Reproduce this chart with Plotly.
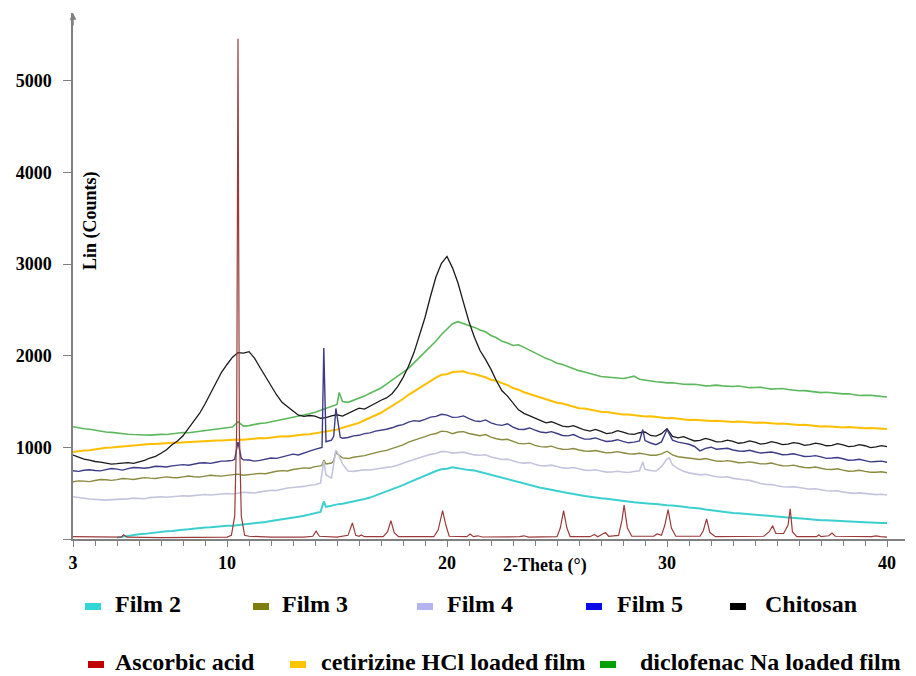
import plotly.graph_objects as go

# 2-theta grid (degrees) shared by the broad diffraction profiles: 3.0 ... 40.0 in 0.25 steps
theta = [round(3.0 + 0.25 * i, 2) for i in range(149)]

# Intensities (counts) on the grid; each full row spans 5 degrees (20 points)
chitosan = [916, 890, 872, 862, 846, 840, 828, 818, 822, 830, 834, 826, 842, 858, 884, 902, 936, 975, 1028, 1070,
            1126, 1210, 1288, 1370, 1474, 1590, 1712, 1820, 1905, 1985, 2035, 2030, 2045, 1975, 1872, 1770, 1668, 1575, 1492, 1440,
            1398, 1352, 1338, 1348, 1342, 1318, 1326, 1345, 1356, 1342, 1372, 1395, 1428, 1418, 1446, 1482, 1515, 1540, 1586, 1660,
            1762, 1885, 2035, 2215, 2418, 2650, 2862, 3010, 3085, 2960, 2795, 2580, 2372, 2200, 2058, 1960, 1852, 1725, 1618, 1560,
            1486, 1410, 1372, 1345, 1318, 1292, 1268, 1280, 1256, 1232, 1224, 1238, 1212, 1190, 1178, 1196, 1174, 1150, 1158, 1182,
            1166, 1148, 1142, 1160, 1168, 1130, 1124, 1150, 1205, 1120, 1104, 1118, 1092, 1070, 1076, 1098, 1082, 1060, 1064, 1080,
            1066, 1045, 1052, 1070, 1058, 1036, 1044, 1062, 1050, 1030, 1036, 1052, 1044, 1022, 1030, 1046, 1036, 1018, 1022, 1040,
            1028, 1008, 1014, 1030, 1018, 998, 1006, 1020, 1008]

film5 = [745, 738, 750, 756, 748, 744, 758, 770, 763, 752, 768, 780, 778, 772, 780, 794, 792, 786, 798, 808,
         812, 806, 818, 830, 832, 826, 838, 850, 852, 858, 1060, 864, 862, 850, 858, 874, 884, 880, 898, 914,
         926, 918, 942, 960, 978, 990, 1062, 1080, 1340, 1100, 1108, 1126, 1132, 1150, 1158, 1178, 1186, 1198, 1214, 1236,
         1248, 1275, 1292, 1286, 1306, 1330, 1338, 1362, 1352, 1328, 1330, 1344, 1314, 1290, 1282, 1300, 1268, 1248, 1240, 1258,
         1222, 1198, 1196, 1212, 1188, 1168, 1160, 1172, 1152, 1130, 1126, 1140, 1112, 1090, 1092, 1104, 1082, 1064, 1070, 1084,
         1066, 1050, 1058, 1070, 1075, 1048, 1030, 1060, 1195, 1080, 1058, 1046, 1034, 1010, 962, 990, 1002, 980, 982, 990,
         972, 960, 958, 968, 952, 938, 944, 950, 936, 920, 922, 930, 916, 900, 902, 910, 896, 880, 884, 890,
         876, 860, 862, 870, 856, 842, 846, 850, 838]
film5_peak_x = [10.35, 10.65, 14.32, 14.4, 14.85, 14.95, 15.15, 28.9]
film5_peak_y = [870, 880, 1000, 2085, 1120, 1425, 1110, 1195]

film3 = [625, 634, 632, 626, 638, 650, 646, 640, 648, 660, 656, 650, 660, 670, 664, 660, 670, 678, 672, 668,
         678, 688, 680, 676, 686, 696, 690, 686, 694, 700, 708, 696, 704, 714, 716, 712, 728, 740, 746, 742,
         758, 770, 776, 772, 790, 798, 820, 830, 930, 885, 878, 892, 900, 910, 926, 944, 956, 968, 986, 1010,
         1028, 1058, 1082, 1098, 1118, 1140, 1152, 1178, 1172, 1150, 1168, 1172, 1152, 1136, 1128, 1140, 1112, 1094, 1084, 1088,
         1062, 1044, 1038, 1046, 1022, 1008, 1004, 1014, 992, 980, 978, 988, 972, 960, 958, 966, 952, 940, 944, 954,
         942, 930, 928, 936, 926, 914, 914, 930, 958, 918, 898, 890, 882, 874, 868, 878, 862, 850, 848, 856,
         846, 832, 834, 842, 832, 820, 822, 830, 812, 800, 798, 806, 792, 780, 778, 786, 772, 760, 758, 766,
         752, 740, 742, 750, 738, 728, 728, 734, 723]
film3_peak_x = [14.32, 14.4, 14.85, 14.95]
film3_peak_y = [805, 860, 850, 965]

film4 = [462, 450, 444, 436, 432, 424, 424, 430, 432, 428, 438, 446, 446, 440, 452, 460, 462, 456, 464, 472,
         472, 468, 476, 484, 486, 480, 488, 496, 496, 492, 504, 510, 506, 502, 514, 526, 532, 530, 544, 556,
         562, 566, 574, 586, 592, 610, 700, 665, 955, 820, 742, 738, 746, 756, 754, 760, 772, 782, 788, 806,
         832, 850, 868, 890, 906, 924, 934, 956, 952, 938, 944, 948, 932, 918, 914, 920, 896, 878, 868, 872,
         852, 836, 828, 834, 816, 800, 798, 806, 792, 776, 772, 780, 766, 752, 748, 756, 742, 730, 732, 740,
         732, 726, 736, 745, 760, 748, 742, 790, 875, 810, 768, 740, 722, 712, 700, 706, 692, 680, 674, 680,
         662, 650, 646, 640, 622, 606, 596, 594, 582, 570, 568, 572, 562, 550, 544, 548, 536, 526, 524, 526,
         512, 502, 498, 504, 496, 486, 484, 488, 480]
film4_peak_x = [14.4, 14.95, 28.9, 30.1]
film4_peak_y = [850, 970, 840, 885]

film2 = [None, None, None, None, None, None, None, None, 15, 26, 34, 44, 52, 56, 64, 76, 82, 84, 88, 98,
         102, 106, 114, 122, 126, 128, 134, 142, 146, 144, 150, 158, 162, 166, 174, 186, 196, 204, 214, 228,
         236, 242, 254, 270, 282, 295, 350, 362, 378, 384, 396, 404, 418, 436, 452, 474, 494, 520, 542, 568,
         588, 616, 642, 664, 688, 718, 742, 762, 768, 784, 772, 766, 752, 748, 732, 718, 698, 686, 668, 652,
         632, 620, 602, 588, 568, 560, 548, 534, 518, 512, 502, 490, 474, 470, 462, 450, 444, 440, 432, 420,
         414, 410, 402, 396, 388, 386, 382, 372, 368, 366, 362, 352, 344, 340, 332, 322, 314, 310, 302, 292,
         284, 282, 276, 268, 264, 262, 256, 248, 244, 240, 236, 228, 224, 220, 216, 208, 204, 204, 200, 196,
         194, 194, 190, 186, 184, 184, 180, 176, 175]
film2_peak_x = [14.4]
film2_peak_y = [410]

cetirizine = [950, 962, 966, 968, 978, 990, 996, 998, 1004, 1012, 1016, 1018, 1024, 1032, 1036, 1038, 1044, 1050, 1052, 1052,
              1056, 1064, 1066, 1064, 1068, 1076, 1076, 1076, 1080, 1086, 1086, 1084, 1090, 1098, 1102, 1100, 1108, 1118, 1122, 1120,
              1128, 1138, 1142, 1144, 1154, 1166, 1172, 1180, 1194, 1214, 1232, 1246, 1268, 1296, 1322, 1346, 1378, 1416, 1452, 1490,
              1528, 1574, 1612, 1648, 1688, 1732, 1762, 1792, 1798, 1822, 1822, 1830, 1808, 1802, 1782, 1766, 1738, 1728, 1702, 1680,
              1648, 1630, 1602, 1584, 1558, 1544, 1522, 1508, 1488, 1480, 1462, 1442, 1428, 1424, 1412, 1396, 1388, 1386, 1376, 1364,
              1358, 1360, 1352, 1340, 1338, 1340, 1332, 1320, 1318, 1320, 1312, 1300, 1298, 1302, 1296, 1286, 1288, 1292, 1286, 1276,
              1278, 1282, 1276, 1266, 1268, 1272, 1266, 1256, 1258, 1260, 1252, 1244, 1244, 1248, 1242, 1230, 1228, 1232, 1226, 1216,
              1218, 1222, 1216, 1206, 1208, 1212, 1206, 1198, 1200]

diclofenac = [1226, 1212, 1204, 1198, 1186, 1172, 1168, 1164, 1156, 1146, 1144, 1140, 1142, 1136, 1134, 1140, 1142, 1140, 1148, 1158,
              1162, 1160, 1168, 1180, 1186, 1188, 1198, 1210, 1216, 1222, 1280, 1232, 1238, 1254, 1262, 1266, 1278, 1296, 1306, 1314,
              1328, 1346, 1356, 1368, 1384, 1404, 1422, 1446, 1468, 1500, 1492, 1512, 1538, 1560, 1592, 1616, 1648, 1690, 1732, 1770,
              1818, 1862, 1922, 1980, 2038, 2100, 2162, 2232, 2288, 2350, 2372, 2352, 2338, 2310, 2282, 2262, 2222, 2196, 2158, 2140,
              2112, 2120, 2092, 2060, 2028, 2004, 1972, 1950, 1918, 1904, 1882, 1856, 1838, 1822, 1802, 1790, 1774, 1768, 1762, 1750,
              1752, 1762, 1778, 1744, 1732, 1728, 1716, 1712, 1704, 1706, 1696, 1690, 1688, 1690, 1682, 1672, 1674, 1680, 1672, 1664,
              1664, 1670, 1662, 1652, 1654, 1656, 1646, 1636, 1640, 1642, 1632, 1622, 1618, 1620, 1612, 1600, 1598, 1602, 1596, 1586,
              1584, 1586, 1576, 1566, 1568, 1570, 1562, 1552, 1550]
diclofenac_peak_x = [15.1]
diclofenac_peak_y = [1600]

# Crystalline ascorbic acid: sharp reflections on a flat baseline
ascorbic_x = [3.0, 4.5, 5.2, 5.3, 5.45, 7.0, 9.5, 10.0, 10.2, 10.35, 10.44, 10.5,
              10.56, 10.65, 10.8, 11.0, 12.0, 13.5, 13.9, 14.05, 14.2, 15.0,
              15.5, 15.7, 15.85, 16.0, 16.1, 16.25, 17.1, 17.3, 17.45, 17.6,
              17.8, 19.4, 19.6, 19.8, 19.95, 20.1, 20.9, 21.05, 21.2, 21.4,
              21.6, 23.3, 23.5, 23.7, 25.0, 25.15, 25.3, 25.45, 25.6, 26.5,
              26.7, 26.85, 27.2, 27.35, 27.8, 27.95, 28.05, 28.2, 28.4, 29.4,
              29.55, 29.75, 29.9, 30.05, 30.2, 30.4, 31.5, 31.65, 31.8, 31.95,
              32.2, 34.4, 34.65, 34.8, 34.95, 35.3, 35.5, 35.6, 35.7, 35.9,
              36.8, 36.9, 37.0, 37.35, 37.5, 37.65, 39.3, 39.5, 39.7, 40.0]
ascorbic_y = [25, 20, 20, 45, 20, 15, 15, 20, 40, 250, 1200, 5460,
              1200, 250, 40, 30, 20, 20, 30, 85, 30, 20,
              40, 175, 40, 30, 45, 25, 25, 80, 200, 70,
              25, 25, 100, 310, 150, 30, 25, 55, 25, 35,
              22, 25, 35, 20, 25, 120, 310, 120, 25, 25,
              50, 25, 70, 30, 40, 200, 370, 120, 30, 30,
              55, 40, 150, 320, 120, 30, 30, 90, 220, 70,
              25, 30, 80, 145, 60, 60, 150, 330, 80, 25,
              25, 45, 25, 35, 65, 30, 25, 35, 25, 20]

x_ticks = [3, 10, 20, 30, 40]
y_ticks = [0, 1000, 2000, 3000, 4000, 5000]


def assemble(base, extra_x=(), extra_y=()):
    pts = {x: y for x, y in zip(theta, base) if y is not None}
    for x, y in zip(extra_x, extra_y):
        pts[x] = y
    xs = sorted(pts)
    return xs, [pts[x] for x in xs]


series = [
    ("diclofenac Na loaded film", assemble(diclofenac, diclofenac_peak_x, diclofenac_peak_y), "#5cb85c", 1.6),
    ("cetirizine HCl loaded film", assemble(cetirizine), "#ffbf00", 2.0),
    ("Chitosan", assemble(chitosan), "#1a1a1a", 1.3),
    ("Film 3", assemble(film3, film3_peak_x, film3_peak_y), "#8a8a40", 1.4),
    ("Film 4", assemble(film4, film4_peak_x, film4_peak_y), "#c4c4de", 1.6),
    ("Film 2", assemble(film2, film2_peak_x, film2_peak_y), "#3ccfcf", 2.0),
    ("Film 5", assemble(film5, film5_peak_x, film5_peak_y), "#3c3c86", 1.4),
    ("Ascorbic acid", (ascorbic_x, ascorbic_y), "#9b3a3a", 1.2),
]

fig = go.Figure()
for name, (xs, ys), color, lw in series:
    fig.add_trace(go.Scatter(x=xs, y=ys, mode="lines", name=name,
                             line=dict(color=color, width=lw),
                             showlegend=False, hoverinfo="skip"))

# plot-area geometry in pixels
W, H = 916, 676
ML, MR, MT, MB = 73, 11, 13, 137
PW, PH = W - ML - MR, H - MT - MB


def px(xp):
    return (xp - ML) / PW


def py(yp):
    return (H - MB - yp) / PH


axis_grey = "#808080"
tick_font = dict(family="Liberation Serif", size=18, color="black", weight="bold")

fig.update_layout(
    width=W, height=H,
    margin=dict(l=ML, r=MR, t=MT, b=MB),
    paper_bgcolor="white", plot_bgcolor="white",
    xaxis=dict(range=[3, 3 + PW / 22.0], showline=True, linecolor=axis_grey, linewidth=1.5,
               showgrid=False, zeroline=False, ticks="outside", ticklen=6, tickwidth=1,
               tickcolor=axis_grey, tickvals=x_ticks, ticktext=[str(v) for v in x_ticks],
               tickfont=tick_font, ticklabelstandoff=1,
               minor=dict(tickmode="linear", tick0=3, dtick=1, ticks="outside",
                          ticklen=5, tickcolor=axis_grey, showgrid=False)),
    yaxis=dict(range=[0, 5742], showline=True, linecolor=axis_grey, linewidth=1.5,
               showgrid=False, zeroline=False, ticks="outside", ticklen=8, tickwidth=1,
               tickcolor=axis_grey, tickvals=y_ticks,
               ticktext=["" if v == 0 else str(v) for v in y_ticks],
               tickfont=tick_font, ticklabelstandoff=8),
)

# arrowhead on the intensity axis
fig.add_annotation(x=0, y=1, xref="paper", yref="paper", text="", showarrow=True,
                   ax=0, ay=14, arrowhead=2, arrowsize=0.9, arrowwidth=1.5,
                   arrowcolor=axis_grey)

title_font = dict(family="Liberation Serif", size=18, color="black")
fig.add_annotation(x=px(90), y=py(221), xref="paper", yref="paper",
                   xanchor="center", yanchor="middle",
                   text="<b>Lin (Counts)</b>", textangle=-90, showarrow=False,
                   font=title_font)
fig.add_annotation(x=px(545), y=py(565), xref="paper", yref="paper",
                   xanchor="center", yanchor="middle",
                   text="<b>2-Theta (°)</b>", showarrow=False, font=title_font)

# legend: coloured swatch + label, two rows below the chart
legend_items = [
    ("Film 2", "#33d6d6", 85, 113, 604),
    ("Film 3", "#7d7d10", 253, 280, 604),
    ("Film 4", "#b4b4f0", 417, 445, 604),
    ("Film 5", "#0a0ae6", 586, 615, 604),
    ("Chitosan", "#000000", 730, 763, 604),
    ("Ascorbic acid", "#c00000", 88, 113, 662),
    ("cetirizine HCl loaded film", "#ffc400", 290, 319, 662),
    ("diclofenac Na loaded film", "#00a000", 600, 638, 662),
]
legend_font = dict(family="Liberation Serif", size=24, color="black")
for label, color, sx, tx, cy in legend_items:
    fig.add_shape(type="rect", xref="paper", yref="paper",
                  x0=px(sx), x1=px(sx + 16), y0=py(cy - 1), y1=py(cy + 6),
                  fillcolor=color, line=dict(width=0))
    fig.add_annotation(x=px(tx), y=py(cy), xref="paper", yref="paper",
                       text=f"<b>{label}</b>", showarrow=False, xanchor="left",
                       yanchor="middle", font=legend_font)

fig.write_html("out.html")
